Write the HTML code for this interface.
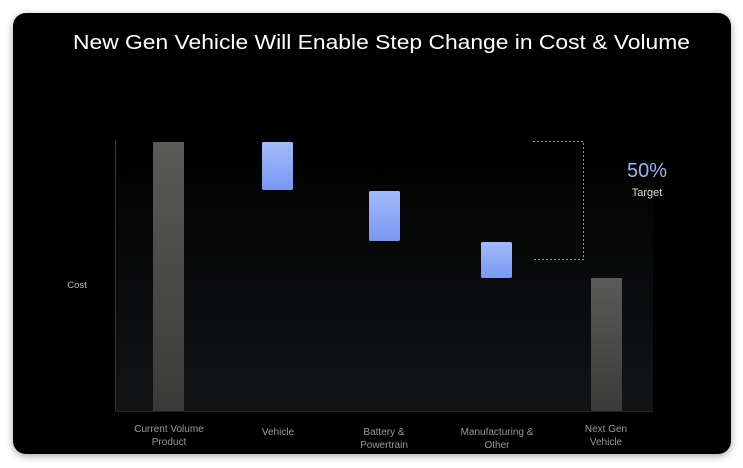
<!DOCTYPE html>
<html><head><style>
html,body{margin:0;padding:0;width:743px;height:468px;background:#fff;overflow:hidden;font-family:"Liberation Sans",sans-serif}
.card{position:absolute;left:13px;top:13px;width:718px;height:441px;background:#000;border-radius:13px;box-shadow:0 2px 8px rgba(0,0,0,.35)}
</style></head><body>
<div class="card"></div>
<svg width="743" height="468" style="position:absolute;left:0;top:0">
<defs>
<linearGradient id="bg" x1="0" y1="0" x2="0" y2="1"><stop offset="0" stop-color="#000"/><stop offset="1" stop-color="#121416"/></linearGradient>
<linearGradient id="gr" x1="0" y1="0" x2="0" y2="1"><stop offset="0" stop-color="#5a5a58"/><stop offset="1" stop-color="#3a3b39"/></linearGradient>
<linearGradient id="bl" x1="0" y1="0" x2="0" y2="1"><stop offset="0" stop-color="#a3baf8"/><stop offset="1" stop-color="#7a98f2"/></linearGradient>
</defs>
<rect x="115" y="140" width="538" height="271" fill="url(#bg)"/>
<line x1="115.5" y1="140" x2="115.5" y2="411" stroke="#333" stroke-width="1"/>
<line x1="115" y1="411.5" x2="653" y2="411.5" stroke="#222" stroke-width="1"/>
<rect x="153" y="142" width="31" height="269" fill="url(#gr)"/>
<rect x="262" y="142" width="31" height="48" rx="1.5" fill="url(#bl)"/>
<rect x="369" y="191" width="31" height="50" rx="1.5" fill="url(#bl)"/>
<rect x="481" y="242" width="31" height="36" rx="1.5" fill="url(#bl)"/>
<rect x="591" y="278" width="31" height="133" fill="url(#gr)"/>
<polyline points="533,141.5 583.5,141.5 583.5,259.5 533,259.5" fill="none" stroke="#8a95b8" stroke-width="1" stroke-dasharray="2,2"/>
<text x="73" y="49" fill="#fff" font-size="20.5" textLength="617" lengthAdjust="spacingAndGlyphs">New Gen Vehicle Will Enable Step Change in Cost &amp; Volume</text>
<text x="647" y="177" fill="#9db4f0" font-size="20" text-anchor="middle">50%</text>
<text x="647" y="196" fill="#ddd" font-size="11" text-anchor="middle">Target</text>
<text x="77" y="288" fill="#bbb" font-size="9.5" text-anchor="middle">Cost</text>
<g fill="#999" font-size="10" text-anchor="middle">
<text x="169" y="432">Current Volume</text><text x="169" y="445">Product</text>
<text x="278" y="435">Vehicle</text>
<text x="384" y="435">Battery &amp;</text><text x="384" y="448">Powertrain</text>
<text x="497" y="435">Manufacturing &amp;</text><text x="497" y="448">Other</text>
<text x="606" y="432">Next Gen</text><text x="606" y="445">Vehicle</text>
</g>
</svg>
</body></html>
